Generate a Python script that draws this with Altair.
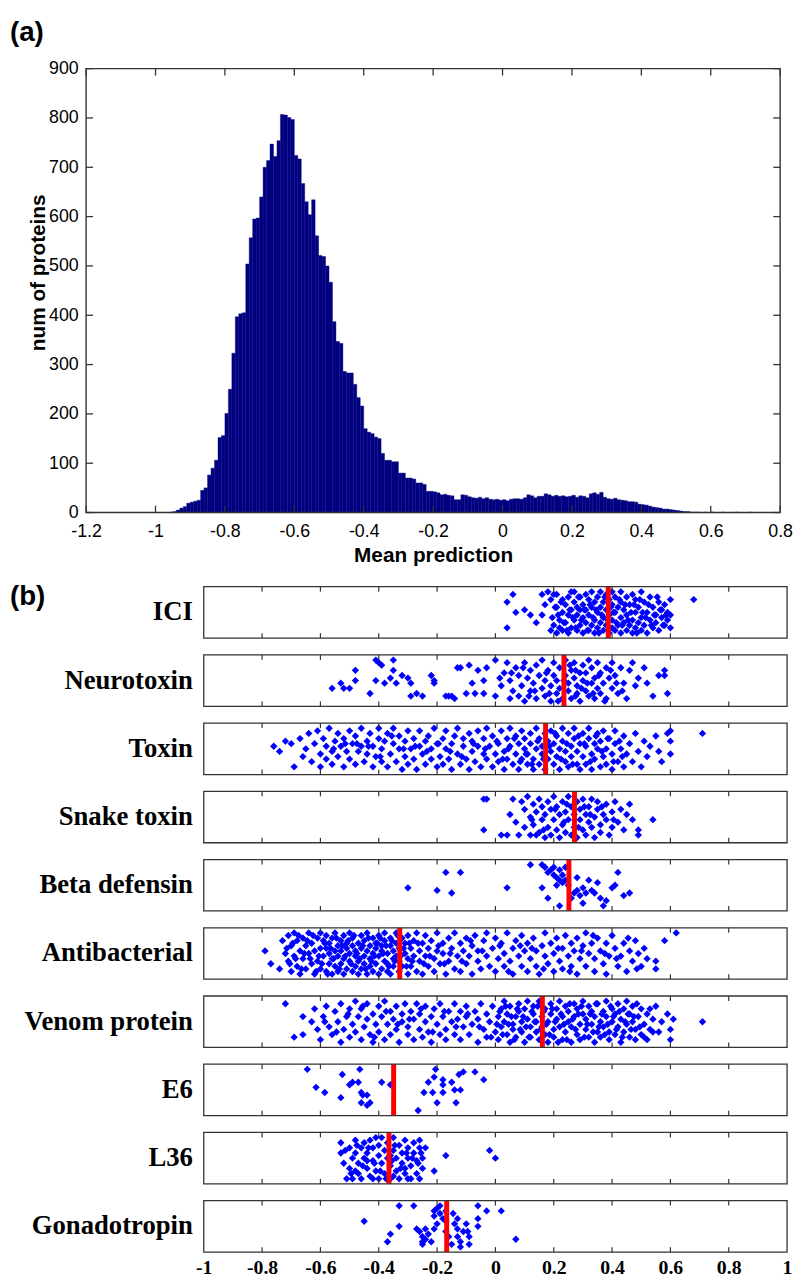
import altair as alt
import pandas as pd

# ---------------- (a) histogram data ----------------
hist_first_bin = -0.96
hist_bin_width = 0.01
hist_counts = [
    1, 2, 5, 9, 12, 19, 21, 23, 25, 45,            # -0.96 .. -0.87
    50, 76, 90, 106, 152, 156, 201, 250, 323, 397,  # -0.86 .. -0.77
    403, 405, 504, 557, 595, 597, 640, 700, 714, 747,  # -0.76 .. -0.67
    722, 754, 807, 806, 801, 797, 724, 717, 667, 630,  # -0.66 .. -0.57
    604, 634, 561, 521, 519, 500, 467, 387, 347, 343,  # -0.56 .. -0.47
    286, 283, 283, 260, 233, 216, 170, 163, 160, 153,  # -0.46 .. -0.37
    150, 120, 106, 106, 103, 103, 80, 80, 70, 70,      # -0.36 .. -0.27
    68, 60, 60, 57, 43, 43, 42, 40, 36, 37,            # -0.26 .. -0.17
    35, 34, 26, 26, 36, 35, 32, 30, 29, 31,            # -0.16 .. -0.07
    28, 30, 27, 26, 27, 25, 26, 24, 27, 28,            # -0.06 .. 0.03
    28, 27, 30, 36, 34, 30, 33, 33, 38, 36,            # 0.04 .. 0.13
    33, 35, 33, 34, 32, 33, 35, 31, 34, 33,            # 0.14 .. 0.23
    30, 38, 40, 37, 41, 31, 28, 27, 29, 26,            # 0.24 .. 0.33
    25, 24, 22, 22, 21, 17, 16, 15, 13, 11,            # 0.34 .. 0.43
    10, 9, 7, 7, 6, 5, 4, 3, 2, 2,                     # 0.44 .. 0.53
    1, 1, 1, 0, 1, 0, 1, 0, 0, 1,                      # 0.54 .. 0.63
    0, 0, 0, 1, 0, 0, 0, 1,                            # 0.64 .. 0.71
]
hist_x_ticks = [-1.2, -1.0, -0.8, -0.6, -0.4, -0.2, 0.0, 0.2, 0.4, 0.6, 0.8]
hist_y_ticks = [0, 100, 200, 300, 400, 500, 600, 700, 800, 900]

# ---------------- (b) strip data ----------------
strip_names = ["ICI", "Neurotoxin", "Toxin", "Snake toxin", "Beta defensin",
               "Antibacterial", "Venom protein", "E6", "L36", "Gonadotropin"]
strip_means = [0.387, 0.235, 0.172, 0.271, 0.252, -0.328, 0.161, -0.349, -0.365, -0.167]
strip_ticks = [-1.0, -0.8, -0.6, -0.4, -0.2, 0.0, 0.2, 0.4, 0.6, 0.8, 1.0]
strip_inner_ticks = [-0.8, -0.6, -0.4, -0.2, 0.0, 0.2, 0.4, 0.6, 0.8]

# (value, vertical jitter level 2..18)
ici_pts = [(0.04,14),(0.06,17),(0.07,10),(0.10,11),(0.12,9),(0.04,4),(0.16,17),(0.16,9),(0.18,18),(0.14,6),
    (0.17,13),(0.19,15),(0.20,17),(0.21,12),(0.21,17),(0.23,15),(0.26,18),(0.29,11),
    (0.19,3),(0.20,5),(0.21,2),(0.22,4),(0.22,7),(0.23,3),(0.23,10),(0.24,6),(0.24,13),(0.25,2),(0.25,9),(0.25,16),
    (0.26,4),(0.26,11),(0.27,7),(0.27,14),(0.27,18),(0.28,3),(0.28,9),(0.28,12),(0.29,5),(0.29,16),(0.30,2),(0.30,8),
    (0.30,13),(0.31,6),(0.31,11),(0.31,17),(0.32,3),(0.32,9),(0.32,15),(0.33,5),(0.33,12),(0.33,18),(0.34,2),(0.34,7),
    (0.34,14),(0.35,4),(0.35,10),(0.35,16),(0.36,6),(0.36,12),(0.36,18),(0.37,3),(0.37,8),(0.37,14),(0.38,5),(0.38,11),
    (0.38,17),(0.39,2),(0.39,9),(0.39,15),(0.40,4),(0.40,7),(0.40,13),(0.40,18),(0.41,3),(0.41,10),(0.41,16),(0.42,5),
    (0.42,12),(0.43,2),(0.43,8),(0.43,14),(0.43,18),(0.44,6),(0.44,11),(0.45,3),(0.45,9),(0.45,16),(0.46,5),(0.46,13),
    (0.47,2),(0.47,7),(0.47,17),(0.48,4),(0.48,10),(0.48,15),(0.49,6),(0.49,12),(0.50,3),(0.50,8),(0.50,18),(0.51,5),
    (0.51,14),(0.52,2),(0.52,10),(0.53,7),(0.53,16),(0.54,4),(0.54,12),(0.55,6),(0.55,9),(0.56,3),(0.56,14),(0.57,8),
    (0.57,11),(0.58,5),(0.58,13),(0.59,7),(0.59,10),(0.60,4),(0.60,9),(0.60,15),(0.68,15),
    (0.195,8),(0.205,12),(0.215,9),(0.225,14),(0.235,6),(0.245,3),(0.255,11),(0.265,8),(0.275,4),(0.285,16),
    (0.295,7),(0.305,11),(0.315,3),(0.325,13),(0.335,8),(0.345,11),(0.355,2),(0.365,9),(0.375,16),(0.385,7),
    (0.395,12),(0.405,10),(0.415,6),(0.425,15),(0.435,5),(0.445,13),(0.455,7),(0.465,10),(0.475,13),(0.485,2),
    (0.495,15),(0.505,10),(0.515,8),(0.525,13),(0.535,5),(0.545,9),(0.555,16),(0.565,11),(0.575,5),(0.585,9)]

neuro_pts = [(-0.56,7),(-0.53,9),(-0.52,7),(-0.50,7),(-0.48,14),(-0.48,10),(-0.43,5),(-0.41,18),(-0.40,17),(-0.39,16),
    (-0.41,10),(-0.38,9),(-0.36,11),(-0.35,18),(-0.35,14),(-0.34,9),(-0.32,12),(-0.30,11),(-0.29,4),(-0.29,9),
    (-0.27,5),(-0.25,4),(-0.22,12),(-0.21,9),(-0.21,10),(-0.17,4),(-0.16,4),(-0.15,4),(-0.14,3),(-0.13,15),
    (-0.12,15),(-0.10,5),(-0.09,16),(-0.08,9),
    (-0.06,14),(-0.03,15),(-0.04,10),(-0.07,5),(-0.04,5),(0.00,18),(0.00,4),(0.02,8),(0.03,13),(0.04,17),(0.05,3),
    (0.05,10),(0.06,6),(0.07,15),(0.08,12),(0.08,4),(0.09,8),(0.10,17),(0.10,2),(0.11,11),(0.12,6),(0.12,14),(0.13,9),
    (0.14,3),(0.14,16),(0.15,12),(0.16,7),(0.16,18),(0.17,4),(0.17,10),(0.18,14),(0.19,8),(0.19,2),(0.20,12),(0.20,17),
    (0.21,5),(0.21,10),(0.22,15),(0.22,7),(0.23,3),(0.24,12),(0.24,18),(0.25,6),(0.25,9),(0.26,14),(0.26,3),(0.27,11),
    (0.27,17),(0.28,5),(0.28,8),(0.29,13),(0.29,2),(0.30,16),(0.30,10),(0.31,6),(0.31,13),(0.32,4),(0.32,18),(0.33,9),
    (0.33,15),(0.34,3),(0.34,11),(0.35,7),(0.35,17),(0.36,5),(0.36,13),(0.37,9),(0.38,15),(0.38,3),(0.39,11),(0.40,7),
    (0.40,17),(0.41,12),(0.42,5),(0.43,15),(0.44,9),(0.46,14),(0.48,8),(0.49,11),(0.51,15),(0.52,9),(0.54,4),(0.56,12),
    (0.58,14),(0.58,12),(0.59,5),(0.45,3),(0.47,17),
    (0.055,13),(0.095,15),(0.135,6),(0.175,13),(0.215,2),(0.235,10),(0.255,16),(0.275,4),(0.295,7),(0.315,9),
    (0.335,5),(0.355,12),(0.375,2),(0.395,14),(0.415,9),(0.435,6),(0.275,14),(0.185,5),(0.115,4),(0.015,11)]

toxin_pts = [(-0.76,11),(-0.74,9),(-0.72,13),(-0.70,12),(-0.69,3),(-0.67,14),(-0.66,7),(-0.65,10),(-0.64,16),(-0.63,5),
    (-0.62,12),(-0.61,17),(-0.60,8),(-0.60,3),
    (-0.59,14),(-0.58,11),(-0.58,6),(-0.57,18),(-0.56,9),(-0.56,4),(-0.55,13),(-0.54,16),(-0.54,7),(-0.53,11),(-0.52,3),
    (-0.52,14),(-0.51,9),(-0.50,17),(-0.50,6),(-0.49,12),(-0.48,4),(-0.48,15),(-0.47,9),(-0.46,18),(-0.46,11),(-0.45,5),
    (-0.44,13),(-0.44,8),(-0.43,16),(-0.42,3),(-0.42,11),(-0.41,7),(-0.40,14),(-0.40,18),
    (-0.39,5),(-0.39,10),(-0.38,13),(-0.37,3),(-0.37,16),(-0.36,8),(-0.35,12),(-0.35,18),(-0.34,5),(-0.33,10),(-0.33,15),
    (-0.32,2),(-0.31,7),(-0.31,13),(-0.30,17),(-0.30,4),(-0.29,10),(-0.28,14),(-0.28,6),(-0.27,2),(-0.26,11),(-0.26,17),
    (-0.25,8),(-0.24,4),(-0.24,13),(-0.23,15),(-0.22,6),(-0.22,10),(-0.21,18),(-0.20,3),(-0.20,12),
    (-0.19,7),(-0.18,14),(-0.18,4),(-0.17,10),(-0.17,17),(-0.16,6),(-0.15,12),(-0.15,2),(-0.14,15),(-0.13,8),(-0.13,18),
    (-0.12,4),(-0.11,11),(-0.11,14),(-0.10,6),(-0.09,16),(-0.09,2),(-0.08,9),(-0.08,13),(-0.07,5),(-0.06,17),(-0.06,11),
    (-0.05,3),(-0.04,8),(-0.04,14),(-0.03,6),(-0.03,18),(-0.02,11),(-0.01,3),(-0.01,15),(0.00,8),
    (0.01,12),(0.01,5),(0.02,17),(0.03,9),(0.03,2),(0.04,14),(0.04,6),(0.05,11),(0.05,18),(0.06,4),(0.07,8),(0.07,15),
    (0.08,12),(0.08,2),(0.09,6),(0.09,17),(0.10,10),(0.10,14),(0.11,4),(0.11,8),(0.12,16),(0.12,12),(0.13,2),(0.13,6),
    (0.14,10),(0.14,18),(0.15,14),(0.15,4),(0.16,8),(0.16,11),(0.17,16),(0.17,2),(0.18,6),(0.18,13),(0.19,9),(0.19,17),
    (0.20,4),(0.20,12),(0.21,7),(0.21,15),(0.22,2),(0.22,10),(0.23,13),(0.23,18),(0.24,5),(0.24,9),(0.25,16),(0.25,3),
    (0.26,11),(0.26,7),(0.27,14),(0.27,18),(0.28,4),(0.28,9),(0.29,12),(0.29,2),(0.30,16),(0.30,7),(0.31,11),(0.31,4),
    (0.32,14),(0.32,18),(0.33,8),(0.33,2),(0.34,12),(0.34,6),(0.35,16),(0.35,10),(0.36,3),(0.36,13),(0.37,7),(0.37,17),
    (0.38,10),(0.38,4),(0.39,14),(0.40,8),(0.40,2),(0.41,12),(0.41,17),(0.42,5),(0.43,10),(0.44,15),(0.44,3),
    (0.45,8),(0.46,12),(0.47,5),(0.48,16),(0.49,9),(0.50,3),(0.51,13),(0.52,7),(0.53,11),(0.55,15),(0.56,9),(0.57,5),
    (0.59,16),(0.60,17),(0.60,13),(0.60,8),(0.71,16),
    (0.005,13),(0.025,6),(0.045,10),(0.065,14),(0.085,5),(0.105,8),(0.125,4),(0.145,13),(0.165,6),(0.185,11),
    (0.205,16),(0.225,6),(0.245,12),(0.265,4),(0.285,15),(0.305,12),(0.325,5),(0.345,15),(0.365,9),(0.385,14),
    (0.405,5),(0.425,13),(0.435,7),(-0.035,10),(-0.075,12),(-0.115,7),(-0.155,9),(-0.195,12),(-0.235,9),
    (-0.275,11),(-0.315,10),(-0.355,15),(-0.395,7),(-0.435,11),(-0.475,12),(-0.515,12),(-0.555,10)]

snake_pts = [(-0.04,17),(-0.03,17),(-0.04,5),(0.02,3),(0.04,3),(0.08,3),(0.06,17),(0.09,16),(0.05,11),(0.07,8),
    (0.10,13),(0.10,6),(0.11,18),(0.12,10),(0.12,3),(0.13,15),(0.13,7),(0.14,12),(0.15,17),(0.15,4),(0.16,9),(0.16,14),
    (0.17,2),(0.17,11),(0.18,16),(0.18,6),(0.19,13),(0.19,3),(0.20,9),(0.20,18),(0.21,5),(0.21,14),(0.22,11),(0.22,2),
    (0.23,16),(0.23,7),(0.24,12),(0.24,4),(0.25,18),(0.25,9),(0.26,14),(0.26,3),(0.27,11),(0.27,6),(0.28,16),(0.28,2),
    (0.29,9),(0.29,13),(0.30,5),(0.30,17),(0.31,11),(0.31,3),(0.32,14),(0.32,8),(0.33,6),(0.33,17),(0.34,10),(0.34,2),
    (0.35,13),(0.35,16),(0.36,7),(0.36,4),(0.37,11),(0.38,15),(0.38,9),(0.39,3),(0.40,12),(0.40,6),(0.41,16),(0.42,8),
    (0.43,13),(0.44,5),(0.45,11),(0.47,9),(0.49,5),(0.49,3),(0.54,9),(0.46,15),(0.14,3),
    (0.125,9),(0.165,5),(0.205,13),(0.245,15),(0.285,6),(0.325,11),(0.365,14),(0.405,9),(0.235,8),(0.305,14)]

beta_pts = [(-0.30,9),(-0.20,8),(-0.15,7),(-0.17,15),(-0.12,15),(0.04,9),(0.12,18),(0.16,18),(0.17,17),(0.18,15),
    (0.19,16),(0.20,17),(0.20,14),(0.21,13),(0.22,16),(0.22,12),(0.23,11),(0.21,10),(0.16,9),(0.18,5),(0.22,2),
    (0.23,14),(0.24,12),(0.24,17),(0.25,10),(0.26,5),(0.27,7),(0.28,13),(0.28,8),(0.29,6),(0.30,9),(0.31,7),(0.32,12),
    (0.33,8),(0.34,7),(0.35,11),(0.36,5),(0.37,2),(0.38,4),(0.40,9),(0.42,15),(0.44,6),(0.46,7),(0.41,10),(0.30,3)]

antib_pts = [(-0.79,11),(-0.77,6),(-0.74,4),(-0.73,15),(-0.72,10),(-0.71,17),(-0.71,7),(-0.70,13),(-0.70,3),(-0.69,18),
    (-0.69,9),(-0.68,15),(-0.68,5),(-0.67,11),(-0.67,2),(-0.66,16),(-0.66,8),(-0.65,13),(-0.65,4),(-0.64,18),(-0.64,10),
    (-0.63,6),(-0.63,14),(-0.62,2),(-0.62,11),(-0.61,16),(-0.61,7),(-0.60,12),(-0.60,4),(-0.60,18),
    (-0.59,9),(-0.59,15),(-0.58,3),(-0.58,12),(-0.58,17),(-0.57,6),(-0.57,10),(-0.57,14),(-0.56,2),(-0.56,8),(-0.56,16),
    (-0.55,5),(-0.55,11),(-0.55,18),(-0.54,3),(-0.54,9),(-0.54,13),(-0.53,6),(-0.53,15),(-0.53,11),(-0.52,2),(-0.52,8),
    (-0.52,17),(-0.51,4),(-0.51,12),(-0.51,14),(-0.50,7),(-0.50,10),(-0.50,18),(-0.49,3),(-0.49,13),(-0.49,16),(-0.48,5),
    (-0.48,9),(-0.48,11),(-0.47,2),(-0.47,14),(-0.47,7),(-0.46,17),(-0.46,4),(-0.46,12),(-0.45,9),(-0.45,15),(-0.45,6),
    (-0.44,2),(-0.44,11),(-0.44,18),(-0.43,5),(-0.43,13),(-0.43,8),(-0.42,16),(-0.42,3),(-0.42,10),(-0.41,14),(-0.41,6),
    (-0.41,12),(-0.40,2),(-0.40,9),(-0.40,17),(-0.39,4),(-0.39,13),(-0.39,11),(-0.38,7),(-0.38,15),(-0.38,18),(-0.37,3),
    (-0.37,10),(-0.37,6),(-0.36,13),(-0.36,16),(-0.36,2),(-0.35,8),(-0.35,11),(-0.35,5),(-0.34,14),(-0.34,18),(-0.34,9),
    (-0.33,3),(-0.33,12),(-0.33,7),(-0.32,16),(-0.32,5),(-0.31,10),(-0.31,14),(-0.30,2),(-0.30,8),(-0.30,17),
    (-0.29,12),(-0.29,5),(-0.28,15),(-0.28,9),(-0.27,3),(-0.27,18),(-0.26,11),(-0.26,7),(-0.25,14),(-0.25,2),(-0.24,9),
    (-0.24,17),(-0.23,5),(-0.23,12),(-0.22,15),(-0.21,8),(-0.21,3),(-0.20,11),(-0.20,18),(-0.19,6),(-0.18,14),(-0.18,10),
    (-0.17,2),(-0.16,16),(-0.16,7),(-0.15,12),(-0.14,4),(-0.14,18),(-0.13,9),(-0.12,14),(-0.12,3),(-0.11,11),(-0.10,6),
    (-0.10,16),(-0.09,9),(-0.08,13),(-0.08,2),(-0.07,17),(-0.06,7),(-0.06,11),(-0.05,4),(-0.04,15),(-0.03,9),(-0.03,18),
    (-0.02,5),(-0.01,12),(0.00,16),(0.00,3),(0.01,8),(0.02,14),(0.03,10),(0.03,5),(0.04,18),(0.05,7),(0.06,12),(0.06,2),
    (0.07,15),(0.08,9),(0.09,5),(0.09,17),(0.10,11),(0.11,3),(0.11,14),(0.12,8),(0.13,16),(0.14,11),(0.14,5),(0.15,2),
    (0.16,13),(0.17,9),(0.17,18),(0.18,6),(0.19,14),(0.20,3),(0.20,10),(0.21,16),(0.22,7),(0.23,12),(0.23,4),(0.24,17),
    (0.25,9),(0.26,14),(0.26,5),(0.27,11),(0.28,2),(0.28,16),(0.29,8),(0.30,13),(0.31,5),(0.31,18),(0.32,10),(0.33,14),
    (0.34,3),(0.34,8),(0.35,16),(0.36,11),(0.37,6),(0.38,14),(0.38,2),(0.39,9),(0.40,17),(0.41,12),(0.42,5),(0.43,9),
    (0.44,14),(0.45,3),(0.46,11),(0.47,7),(0.48,15),(0.49,10),(0.50,5),(0.51,12),(0.52,8),
    (0.55,7),(0.55,4),(0.58,15),(0.62,18),
    (-0.715,12),(-0.705,6),(-0.695,14),(-0.685,8),(-0.675,17),(-0.665,4),(-0.655,10),(-0.645,15),(-0.635,8),
    (-0.625,17),(-0.615,3),(-0.605,9),(-0.595,6),(-0.585,14),(-0.575,2),(-0.565,12),(-0.555,8),(-0.545,16),
    (-0.535,4),(-0.525,13),(-0.515,9),(-0.505,15),(-0.495,6),(-0.485,17),(-0.475,10),(-0.465,8),(-0.455,13),
    (-0.445,4),(-0.435,16),(-0.425,7),(-0.415,9),(-0.405,14),(-0.395,16),(-0.385,10),(-0.375,13),(-0.365,5),
    (-0.355,15),(-0.345,7),(-0.335,17),(-0.325,9),(-0.315,12),(-0.305,5),(-0.295,14),(-0.285,7),(-0.265,14),
    (-0.245,6),(-0.225,9),(-0.195,13),(-0.175,6),(-0.155,10),(-0.115,7),(-0.085,15),(-0.045,11),(0.015,13),
    (0.045,3),(0.085,13),(0.125,12),(0.165,4),(0.215,12),(0.255,3),(0.295,11),(0.335,17),(0.375,10),(0.415,8),
    (0.455,16),(0.485,4)]

venom_pts = [(-0.72,17),(-0.69,4),(-0.66,5),(-0.66,12),(-0.63,10),(-0.62,15),(-0.61,7),
    (-0.60,3),(-0.59,12),(-0.58,16),(-0.57,8),(-0.56,5),(-0.55,14),(-0.54,10),(-0.53,2),(-0.53,17),(-0.52,7),(-0.51,12),
    (-0.50,4),(-0.50,15),(-0.49,9),(-0.48,18),(-0.48,6),(-0.47,12),(-0.46,3),(-0.46,15),(-0.45,8),(-0.44,11),(-0.44,17),
    (-0.43,5),(-0.42,13),(-0.42,2),(-0.41,9),(-0.40,16),(-0.40,6),(-0.39,12),(-0.38,3),(-0.38,18),(-0.37,9),(-0.36,14),
    (-0.36,5),(-0.35,11),(-0.34,16),(-0.34,7),(-0.33,2),(-0.32,13),(-0.32,10),(-0.31,17),(-0.30,5),(-0.30,8),(-0.29,14),
    (-0.28,11),(-0.28,3),(-0.27,17),(-0.26,7),(-0.26,13),(-0.25,4),(-0.24,10),(-0.24,16),(-0.23,6),(-0.22,12),(-0.22,2),
    (-0.21,15),(-0.20,9),(-0.19,5),(-0.19,17),(-0.18,12),(-0.17,7),(-0.17,3),(-0.16,14),(-0.15,10),(-0.14,5),(-0.14,17),
    (-0.13,11),(-0.12,3),(-0.12,14),(-0.11,8),(-0.10,16),(-0.10,12),(-0.09,5),(-0.08,9),(-0.07,14),(-0.06,2),(-0.06,11),
    (-0.05,17),(-0.04,7),(-0.03,13),(-0.03,4),(-0.02,10),(-0.01,16),(0.00,6),
    (0.01,12),(0.01,3),(0.02,15),(0.02,8),(0.03,18),(0.03,10),(0.04,5),(0.04,13),(0.05,2),(0.05,16),(0.06,9),(0.06,7),
    (0.07,12),(0.07,4),(0.08,17),(0.08,14),(0.09,10),(0.09,6),(0.10,2),(0.10,15),(0.11,11),(0.11,18),(0.12,8),(0.12,4),
    (0.13,13),(0.13,16),(0.14,6),(0.14,10),(0.15,3),(0.15,18),(0.16,12),(0.16,8),(0.17,15),(0.17,5),(0.18,10),(0.18,2),
    (0.19,17),(0.19,13),(0.20,7),(0.20,4),(0.21,11),(0.21,15),(0.22,18),(0.22,8),(0.23,3),(0.23,12),(0.24,6),(0.24,16),
    (0.25,10),(0.25,14),(0.26,2),(0.26,8),(0.27,17),(0.27,12),(0.28,5),(0.28,15),(0.29,9),(0.29,3),(0.30,13),(0.30,18),
    (0.31,7),(0.31,11),(0.32,4),(0.32,16),(0.33,9),(0.33,14),(0.34,2),(0.34,12),(0.35,6),(0.35,17),(0.36,10),(0.36,4),
    (0.37,14),(0.37,8),(0.38,18),(0.38,12),(0.39,3),(0.39,6),(0.40,15),(0.40,10),(0.41,5),(0.41,13),(0.42,17),(0.42,8),
    (0.43,2),(0.43,11),(0.44,15),(0.44,6),(0.45,9),(0.45,18),(0.46,4),(0.46,13),(0.47,10),(0.47,16),(0.48,7),(0.48,3),
    (0.49,12),(0.50,15),(0.50,5),(0.51,9),(0.52,13),(0.52,3),(0.53,7),(0.54,11),(0.55,16),(0.56,6),(0.57,10),(0.59,13),
    (0.60,7),(0.60,3),(0.61,11),(0.71,10),
    (0.005,9),(0.015,14),(0.025,5),(0.035,16),(0.045,9),(0.055,12),(0.065,3),(0.075,15),(0.085,7),(0.095,12),
    (0.105,8),(0.115,4),(0.125,14),(0.135,10),(0.145,16),(0.155,7),(0.165,14),(0.175,9),(0.185,5),(0.195,15),
    (0.205,10),(0.215,2),(0.225,13),(0.235,9),(0.245,3),(0.255,17),(0.265,11),(0.275,7),(0.285,13),(0.295,16),
    (0.305,4),(0.315,9),(0.325,13),(0.335,6),(0.345,17),(0.355,8),(0.365,13),(0.375,5),(0.385,9),(0.395,16),
    (0.405,12),(0.415,7),(0.425,14),(0.435,4),(0.445,10),(0.455,13),(0.465,7),(0.475,12),(0.485,17),(0.495,8),
    (0.51,4),(0.53,15),(0.54,6),
    (-0.585,10),(-0.545,6),(-0.505,13),(-0.455,16),(-0.415,4),(-0.375,14),(-0.335,9),(-0.295,11),(-0.255,15),
    (-0.215,6),(-0.175,14),(-0.135,8),(-0.095,13),(-0.055,8),(-0.015,4)]

e6_pts = [(-0.645,18),(-0.615,11),(-0.585,9),(-0.53,7),(-0.525,16),(-0.50,12),(-0.49,13),(-0.47,13),(-0.465,18),
    (-0.46,9),(-0.455,8),(-0.44,8),(-0.46,5),(-0.44,4),(-0.43,5),(-0.39,13),(-0.36,12),
    (-0.265,2),(-0.245,9),(-0.215,9),(-0.23,13),(-0.21,15),(-0.205,18),(-0.20,5),(-0.18,14),(-0.18,12),(-0.18,9),
    (-0.15,13),(-0.14,10),(-0.12,10),(-0.135,5),(-0.125,16),(-0.11,17),(-0.07,17),(-0.04,14)]

l36_pts = [(-0.53,16),(-0.53,12),(-0.52,8),(-0.51,2),(-0.50,14),(-0.50,6),(-0.49,10),(-0.49,2),(-0.48,17),(-0.48,12),
    (-0.47,4),(-0.47,8),(-0.46,14),(-0.46,2),(-0.45,10),(-0.45,16),(-0.44,6),(-0.44,12),(-0.43,3),(-0.43,17),(-0.42,9),
    (-0.42,14),(-0.41,18),(-0.41,5),(-0.40,11),(-0.40,2),(-0.40,15),(-0.39,8),(-0.39,18),(-0.38,4),(-0.38,13),(-0.37,10),
    (-0.37,16),(-0.36,2),(-0.36,7),(-0.35,13),(-0.35,18),(-0.34,5),(-0.34,10),(-0.33,15),(-0.33,2),(-0.32,8),(-0.32,12),
    (-0.31,17),(-0.31,4),(-0.30,10),(-0.30,14),(-0.29,2),(-0.29,7),(-0.28,12),(-0.28,16),(-0.27,4),(-0.27,9),(-0.26,14),
    (-0.26,2),(-0.25,10),(-0.25,6),(-0.26,17),(-0.24,14),(-0.21,5),(-0.17,11),(-0.02,13),(0.00,10),(-0.44,9),(-0.36,11),
    (-0.31,6),(-0.48,5),(-0.42,2),(-0.35,3),(-0.30,2),
    (-0.515,13),(-0.495,4),(-0.475,15),(-0.455,7),(-0.435,14),(-0.415,8),(-0.395,5),(-0.375,2),(-0.355,9),
    (-0.345,15),(-0.325,6),(-0.305,12),(-0.285,10),(-0.265,8),(-0.255,12)]

gonad_pts = [(-0.45,12),(-0.36,7),(-0.37,4),(-0.33,18),(-0.33,10),(-0.28,18),(-0.27,9),(-0.26,8),(-0.25,6),(-0.25,4),
    (-0.25,3),(-0.24,9),(-0.24,5),(-0.23,7),(-0.21,16),(-0.21,14),(-0.20,17),(-0.20,11),(-0.21,9),(-0.19,18),(-0.19,15),
    (-0.18,13),(-0.17,16),(-0.17,12),(-0.17,8),(-0.16,6),(-0.145,15),(-0.14,11),(-0.13,13),(-0.13,9),(-0.13,6),
    (-0.12,4),(-0.12,2),(-0.11,8),(-0.10,11),(-0.095,8),(-0.09,6),(-0.09,3),(-0.06,18),(-0.06,13),(-0.06,10),(-0.03,16),
    (0.02,16),(0.07,5),(-0.22,4),(-0.15,3)]

strip_points = [ici_pts, neuro_pts, toxin_pts, snake_pts, beta_pts,
                antib_pts, venom_pts, e6_pts, l36_pts, gonad_pts]

# ---------------- layout / style ----------------
HW, HH = 702, 449          # histogram plot area
SW, SH = 709, 52           # strip panel plot area
SX0, SX1 = 119, 709        # pixel range of [-1, 1] inside strip panels
TICK = 7
SANS = "Liberation Sans"
SERIF = "Liberation Serif"
FRAME = "#333333"

# ---- histogram ----
starts = [round(hist_first_bin + i * hist_bin_width, 2) for i in range(len(hist_counts))]
hist_df = pd.DataFrame({"start": starts,
                        "end": [round(s + hist_bin_width, 2) for s in starts],
                        "count": hist_counts,
                        "base": [0] * len(starts)})
hx = alt.Scale(domain=[-1.2, 0.8], nice=False, zero=False)
hy = alt.Scale(domain=[0, 900], nice=False, zero=True)
hx_axis = alt.Axis(
    values=hist_x_ticks, labelExpr="'' + datum.value", ticks=False, domain=False, grid=False,
    labelFont=SANS, labelFontSize=18, labelColor="black", labelPadding=10, labelFlush=False,
    labelOverlap=False, title="Mean prediction", titleFont=SANS, titleFontSize=21,
    titleFontWeight="bold", titleColor="black", titlePadding=5)
hy_axis = alt.Axis(
    values=hist_y_ticks, ticks=False, domain=False, grid=False,
    labelFont=SANS, labelFontSize=18, labelColor="black", labelPadding=8,
    title="num of proteins", titleFont=SANS, titleFontSize=21, titleFontWeight="bold",
    titleColor="black", titlePadding=0, titleY=206)

bars = alt.Chart(hist_df).mark_bar(color="#000080", stroke="#000080", strokeWidth=0.4).encode(
    x=alt.X("start:Q", scale=hx, axis=hx_axis),
    x2="end:Q",
    y=alt.Y("count:Q", scale=hy, axis=hy_axis),
    y2="base:Q",
)
hframe = alt.Chart(pd.DataFrame({"start": [-1.2], "end": [0.8], "count": [900], "base": [0]})).mark_rect(
    fillOpacity=0, stroke=FRAME, strokeWidth=1.4).encode(
    x=alt.X("start:Q", scale=hx, axis=hx_axis), x2="end:Q",
    y=alt.Y("count:Q", scale=hy, axis=hy_axis), y2="base:Q")
hxt = pd.DataFrame({"start": hist_x_ticks})
hyt = pd.DataFrame({"count": hist_y_ticks})
hx_bot = alt.Chart(hxt).mark_rule(color=FRAME, strokeWidth=1.3).encode(
    x=alt.X("start:Q", scale=hx, axis=hx_axis), y=alt.value(HH), y2=alt.value(HH - TICK))
hx_top = alt.Chart(hxt).mark_rule(color=FRAME, strokeWidth=1.3).encode(
    x=alt.X("start:Q", scale=hx, axis=hx_axis), y=alt.value(0), y2=alt.value(TICK))
hy_left = alt.Chart(hyt).mark_rule(color=FRAME, strokeWidth=1.3).encode(
    y=alt.Y("count:Q", scale=hy, axis=hy_axis), x=alt.value(0), x2=alt.value(TICK))
hy_right = alt.Chart(hyt).mark_rule(color=FRAME, strokeWidth=1.3).encode(
    y=alt.Y("count:Q", scale=hy, axis=hy_axis), x=alt.value(HW), x2=alt.value(HW - TICK))
label_a = alt.Chart(pd.DataFrame({"t": ["(a)"]})).mark_text(
    align="left", baseline="middle", font=SANS, fontSize=28, fontWeight="bold", color="black").encode(
    x=alt.value(-77), y=alt.value(-36), text="t:N")
spacer = alt.Chart(pd.DataFrame({"t": ["s"]})).mark_rule(opacity=0).encode(
    x=alt.value(0), y=alt.value(HH), y2=alt.value(510))

hist = alt.layer(bars, hframe, hx_bot, hx_top, hy_left, hy_right, label_a, spacer).properties(
    width=HW, height=HH)

# ---- strips ----
sx = alt.Scale(domain=[-1, 1], range=[SX0, SX1], nice=False, zero=False)
sy = alt.Scale(domain=[0, 20], nice=False, zero=False)
inner = pd.DataFrame({"v": strip_inner_ticks})

panels = []
for i, name in enumerate(strip_names):
    last = i == len(strip_names) - 1
    pts = pd.DataFrame(strip_points[i], columns=["v", "lvl"])
    if last:
        xaxis = alt.Axis(values=strip_ticks, labelExpr="'' + datum.value", ticks=False, domain=False,
                         grid=False, labelFont=SERIF, labelFontSize=20, labelFontWeight="bold",
                         labelColor="black", labelPadding=6, labelFlush=False, labelOverlap=False,
                         title=None)
    else:
        xaxis = None
    points = alt.Chart(pts).mark_point(shape="diamond", filled=True, color="#0000FF", size=55,
                                       opacity=1).encode(
        x=alt.X("v:Q", scale=sx, axis=xaxis),
        y=alt.Y("lvl:Q", scale=sy, axis=None))
    mean = alt.Chart(pd.DataFrame({"v": [strip_means[i]]})).mark_rule(color="#FF0000", strokeWidth=5).encode(
        x=alt.X("v:Q", scale=sx, axis=xaxis), y=alt.value(0), y2=alt.value(SH))
    frame = alt.Chart(pd.DataFrame({"v": [-1.0], "v2": [1.0], "lvl": [0], "lvl2": [20]})).mark_rect(
        fillOpacity=0, stroke=FRAME, strokeWidth=1.3).encode(
        x=alt.X("v:Q", scale=sx, axis=xaxis), x2="v2:Q",
        y=alt.Y("lvl:Q", scale=sy, axis=None), y2="lvl2:Q")
    t_bot = alt.Chart(inner).mark_rule(color=FRAME, strokeWidth=1.2).encode(
        x=alt.X("v:Q", scale=sx, axis=xaxis), y=alt.value(SH), y2=alt.value(SH - 5))
    t_top = alt.Chart(inner).mark_rule(color=FRAME, strokeWidth=1.2).encode(
        x=alt.X("v:Q", scale=sx, axis=xaxis), y=alt.value(0), y2=alt.value(5))
    lab = alt.Chart(pd.DataFrame({"t": [name]})).mark_text(
        align="right", baseline="middle", font=SERIF, fontSize=27, fontWeight="bold", color="black").encode(
        x=alt.value(SX0 - 11), y=alt.value(SH / 2), text="t:N")
    layers = [points, t_bot, t_top, mean, frame, lab]
    if i == 0:
        layers.append(alt.Chart(pd.DataFrame({"t": ["(b)"]})).mark_text(
            align="left", baseline="middle", font=SANS, fontSize=28, fontWeight="bold", color="black").encode(
            x=alt.value(-77), y=alt.value(11), text="t:N"))
    panels.append(alt.layer(*layers).properties(width=SW, height=SH))

chart = alt.vconcat(hist, *panels, spacing=11).properties(
    padding={"left": 2, "top": 4, "right": 0, "bottom": 2},
    background="white",
).configure_view(stroke="transparent", strokeWidth=0)

chart.save("out.html", embed_options={"renderer": "svg", "actions": False})
